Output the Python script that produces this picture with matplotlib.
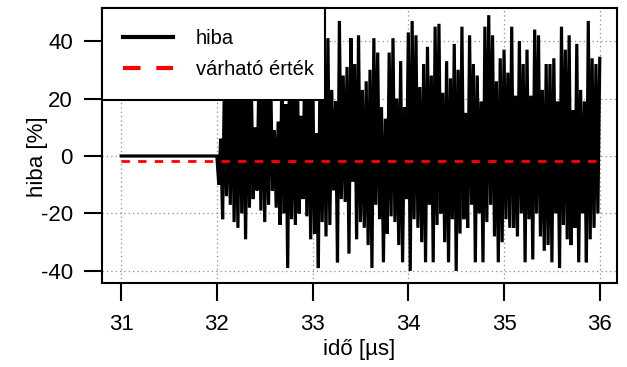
import numpy as np
import matplotlib
matplotlib.use('Agg')
import matplotlib.pyplot as plt

plt.rcParams['font.family'] = ['Liberation Sans', 'DejaVu Sans']
plt.rcParams['axes.unicode_minus'] = False

# flat part before the disturbance
flat_t = [31.0, 32.0]
flat_v = [0.0, 0.0]

# zigzag part: lows at 32.02 + 0.04*j, highs at 32.04 + 0.04*k  (values in %)
lows = [-10, -22, -14, -17, -23, -25, -20, -29, -18, -15,
        -12, -19, -23, -17, -12, -18, -24, -20, -39, -22,
        -24, -20, -15, -21, -29, -27, -39, -23, -28, -24,
        -12, -37, -15, -16, -34, -9, -29, -23, -25, -31,
        -39, -17, -22, -37, -27, -21, -23, -31, -37, -15,
        -40, -22, -25, -30, -37, -17, -37, -24, -20, -30,
        -37, -22, -40, -27, -22, -25, -17, -37, -20, -37,
        -23, -17, -28, -37, -30, -22, -25, -25, -28, -20,
        -37, -22, -36, -20, -28, -33, -31, -37, -20, -39,
        -24, -29, -31, -25, -37, -20, -37, -29, -25, -20]
highs = [6, 30, 25, 35, 22, 38, 28, 33, 24, 10,
         30, 36, 27, 34, 9, 12, 31, 18, 38, 29,
         33, 14, 40, 26, 35, 8, 42, 30, 41, 23,
         19, 47, 28, 31, 41, 32, 42, 23, 26, 30,
         41, 36, 17, 13, 36, 41, 20, 33, 17, 43,
         47, 42, 24, 32, 38, 28, 45, 46, 22, 33,
         27, 39, 30, 45, 15, 42, 32, 28, 19, 45,
         49, 42, 26, 34, 37, 29, 45, 21, 40, 32,
         37, 21, 44, 42, 23, 32, 32, 34, 19, 45,
         37, 42, 16, 39, 23, 19, 47, 34, 32, 34]

mean_t = [31.0, 36.0]
mean_v = [-1.7, -1.7]

step = 0.04
t_low = 32.02 + step * np.arange(len(lows))
t_high = 32.04 + step * np.arange(len(highs))
t_zz = np.empty(len(lows) + len(highs))
v_zz = np.empty(len(lows) + len(highs))
t_zz[0::2], t_zz[1::2] = t_low, t_high
v_zz[0::2], v_zz[1::2] = lows, highs

t_all = np.concatenate([flat_t, t_zz])
v_all = np.concatenate([flat_v, v_zz])

fig = plt.figure(figsize=(6.27, 3.67), dpi=100)
ax = fig.add_axes([102/627, 1 - 283/367, 515/627, 275/367])

xticks = [31, 32, 33, 34, 35, 36]
yticks = [-40, -20, 0, 20, 40]
for xv in xticks:
    ax.axvline(xv, color='#8c8c8c', lw=0.9, ls=(0, (1, 2.5)), zorder=0)
for yv in yticks:
    ax.axhline(yv, color='#8c8c8c', lw=0.9, ls=(0, (1, 2.5)), zorder=0)

ax.plot(t_all, v_all, color='black', lw=2.3, solid_joinstyle='miter', label='hiba', zorder=2)
ax.plot(mean_t, mean_v, color='red', lw=2, ls=(0, (3, 3)), label='várható érték', zorder=3)

ax.set_xlim(30.80, 36.18)
ax.set_ylim(-44.2, 51.5)
ax.set_xticks(xticks)
ax.set_yticks(yticks)
ax.tick_params(direction='out', length=13, width=1.5, labelsize=16, pad=8)
ax.tick_params(axis='x', pad=9)
for s in ax.spines.values():
    s.set_linewidth(1.5)

ax.set_xlabel('idő [µs]', fontsize=16)
ax.set_ylabel('hiba [%]', fontsize=16)
ax.xaxis.set_label_coords(0.5, -0.205)
ax.yaxis.set_label_coords(-0.105, 0.46)

leg = ax.legend(loc='upper left', bbox_to_anchor=(0, 0, 223/515, 1), mode='expand',
                borderaxespad=0, fancybox=False, framealpha=1, edgecolor='black',
                fontsize=14.5, handlelength=2.5, handletextpad=1.1, borderpad=1.05,
                labelspacing=0.6)
leg.get_frame().set_linewidth(1.5)
leg.get_lines()[0].set_linewidth(3)
leg.get_lines()[1].set_linewidth(3)
leg.get_lines()[1].set_dashes([4.2, 3.8])
leg.set_zorder(5)

fig.savefig('out.png', dpi=100)
